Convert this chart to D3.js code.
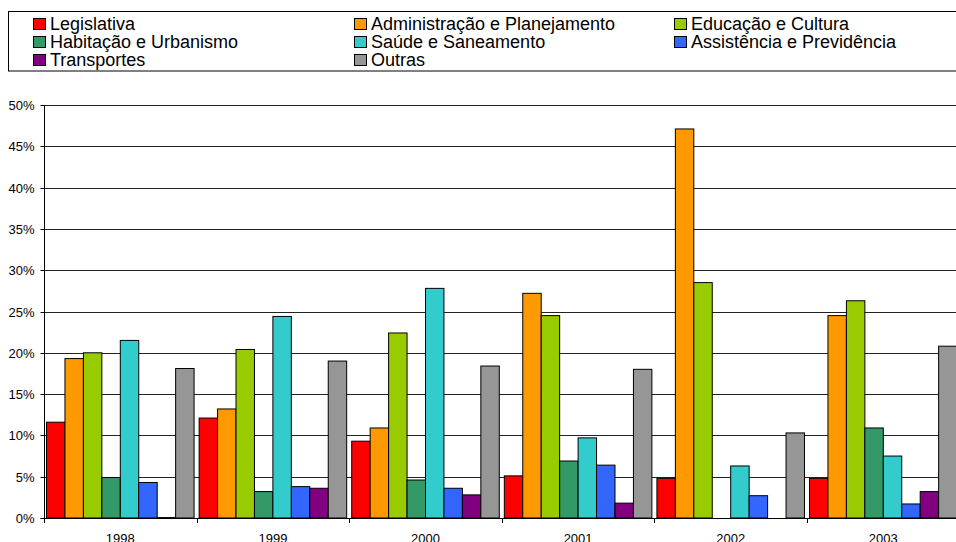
<!DOCTYPE html>
<html><head><meta charset="utf-8">
<script src="https://cdn.jsdelivr.net/npm/d3@7/dist/d3.min.js"></script>
<style>
html,body{margin:0;padding:0;background:#fff;overflow:hidden;}
text{font-family:"Liberation Sans",Arial,sans-serif;}
</style></head>
<body>
<svg id="c" width="956" height="542"></svg>
<script>
const years = ["1998","1999","2000","2001","2002","2003"];
const seriesNames = ["Legislativa","Administração e Planejamento","Educação e Cultura","Habitação e Urbanismo","Saúde e Saneamento","Assistência e Previdência","Transportes","Outras"];
const seriesColors = ["#FF0000","#FF9900","#99CC00","#339966","#33CCCC","#3366FF","#800080","#969696"];
const legislativa    = [11.6, 12.1, 9.3, 5.1, 4.8, 4.8];
const administracao  = [19.3, 13.2, 10.9, 27.2, 47.1, 24.5];
const educacao       = [20.0, 20.4, 22.4, 24.5, 28.5, 26.3];
const habitacao      = [4.9, 3.2, 4.6, 6.9, 0, 10.9];
const saude          = [21.5, 24.4, 27.8, 9.7, 6.3, 7.5];
const assistencia    = [4.3, 3.8, 3.6, 6.4, 2.7, 1.7];
const transportes    = [0.05, 3.6, 2.8, 1.8, 0, 3.2];
const outras         = [18.1, 19.0, 18.4, 18.0, 10.3, 20.8];
const yTicks = [0,5,10,15,20,25,30,35,40,45,50];

const values = [legislativa, administracao, educacao, habitacao, saude, assistencia, transportes, outras];

const svg = d3.select("#c");
const mLeft = 44, mTop = 105, mBottom = 518, mRight = 44 + 6*152.6;

const y = d3.scaleLinear().domain([0,50]).range([mBottom, mTop]);
const pad = 0.033;
const x0 = d3.scaleBand().domain(years).range([mLeft, mRight]).paddingInner(pad).paddingOuter(pad/2);
const x1 = d3.scaleBand().domain(d3.range(seriesNames.length)).range([0, x0.bandwidth()]);

// gridlines
svg.append("g").selectAll("line").data(yTicks.filter(d=>d>0)).join("line")
  .attr("x1", mLeft).attr("x2", 956)
  .attr("y1", d=>Math.round(y(d))+0.5).attr("y2", d=>Math.round(y(d))+0.5)
  .attr("stroke", "#222").attr("stroke-width", 1);

// y axis
const yAxis = d3.axisLeft(y).tickValues(yTicks).tickFormat(d=>d+"%").tickSize(4).tickPadding(6);
const gy = svg.append("g").attr("transform", `translate(${mLeft+0.5},0)`).call(yAxis);
gy.selectAll("text").attr("font-size", 13).attr("fill", "#000")
  .attr("font-family", '"Liberation Sans",Arial,sans-serif');
gy.selectAll(".tick").attr("transform", d=>`translate(0,${Math.round(y(d))+0.5})`);
gy.select(".domain").attr("stroke", "#000").attr("d", `M-4,${mBottom+0.5}H0V${mTop}`);
gy.selectAll("line").attr("stroke", "#000");

// bars
const data = [];
years.forEach((yr, i) => values.forEach((arr, s) => data.push({yr, s, v: arr[i]})));
svg.append("g").selectAll("rect").data(data).join("rect")
  .attr("x", d => x0(d.yr) + x1(d.s))
  .attr("width", x1.bandwidth())
  .attr("y", d => y(d.v))
  .attr("height", d => Math.max(0, y(0) - y(d.v)))
  .attr("fill", d => seriesColors[d.s])
  .attr("stroke", "#000").attr("stroke-width", 1);

// x axis
const step = x0.step();
const boundaries = years.map(yr => x0(yr) - step*pad/2).concat([mRight]);
svg.append("line").attr("x1", mLeft).attr("x2", 956)
  .attr("y1", mBottom+0.5).attr("y2", mBottom+0.5).attr("stroke", "#000");
svg.append("g").selectAll("line").data(boundaries).join("line")
  .attr("x1", d=>Math.round(d)+0.5).attr("x2", d=>Math.round(d)+0.5)
  .attr("y1", mBottom).attr("y2", mBottom+5).attr("stroke", "#000");
svg.append("g").selectAll("text").data(years).join("text")
  .attr("x", d => x0(d) + x0.bandwidth()/2)
  .attr("y", 543)
  .attr("text-anchor", "middle").attr("font-size", 13).attr("fill", "#000")
  .text(d => d);

// legend
svg.append("rect").attr("x", 8.5).attr("y", 11.5).attr("width", 960).attr("height", 59.5)
  .attr("fill", "#fff").attr("stroke", "#000").attr("stroke-width", 1);
const colX = [33, 354, 674];
const rowY = [18, 36, 54];
const lg = svg.append("g").selectAll("g").data(seriesNames).join("g")
  .attr("transform", (d,i) => `translate(${colX[i%3]},${rowY[Math.floor(i/3)]})`);
lg.append("rect").attr("x", 0.5).attr("y", 0.5).attr("width", 12).attr("height", 11)
  .attr("fill", (d,i)=>seriesColors[i]).attr("stroke", "#000");
lg.append("text").attr("x", 17).attr("y", 11.5).attr("font-size", 18).attr("fill", "#000").text(d=>d);
</script>
</body></html>
